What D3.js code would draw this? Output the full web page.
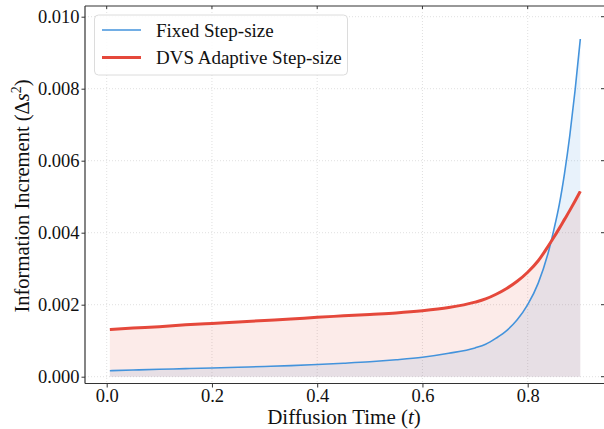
<!DOCTYPE html>
<html><head><meta charset="utf-8">
<script src="https://cdn.jsdelivr.net/npm/d3@7"></script>
<style>body{margin:0;background:#fff}svg{display:block}svg text{font-family:'Liberation Serif','Times New Roman',serif !important;fill:#111}</style>
</head><body><svg id="c" width="604" height="429"></svg>
<script>
const tValues = [0.006,0.05,0.1,0.15,0.2,0.25,0.3,0.35,0.4,0.45,0.5,0.55,0.6,0.65,0.7,0.72,0.74,0.76,0.78,0.8,0.82,0.84,0.85,0.86,0.87,0.88,0.89,0.9];
const fixedStep = [0.000167,0.000185,0.000205,0.000223,0.000242,0.000262,0.000283,0.000307,0.00034,0.000375,0.000415,0.00047,0.00054,0.00065,0.0008,0.0009,0.00107,0.00128,0.00158,0.002,0.0026,0.0035,0.0041,0.00478,0.00565,0.0067,0.00795,0.00938];
const dvsStep = [0.00131,0.00135,0.00139,0.00144,0.00148,0.00152,0.00156,0.0016,0.00165,0.00169,0.00173,0.00177,0.00183,0.00192,0.00207,0.00216,0.00229,0.00245,0.00265,0.0029,0.00322,0.00365,0.00388,0.00412,0.00437,0.00462,0.00488,0.00515];
const xTicks = [0.0,0.2,0.4,0.6,0.8];
const yTicks = [0.000,0.002,0.004,0.006,0.008,0.010];
const seriesNames = ["Fixed Step-size","DVS Adaptive Step-size"];

const L=85,R=604,T=6,B=383.5;
const x=d3.scaleLinear().domain([-0.04123,0.945]).range([L,R]);
const y=d3.scaleLinear().domain([-0.000189,0.010297]).range([B,T]);
const svg=d3.select("#c");
const blue="#4393dc", red="#e5483b";
const FONT="'Liberation Serif', serif";

// grid
const g=svg.append("g");
g.selectAll(".gx").data(xTicks).join("line").attr("x1",d=>x(d)).attr("x2",d=>x(d)).attr("y1",T).attr("y2",B)
 .attr("stroke","#d8d8d8").attr("stroke-width",0.8).attr("stroke-dasharray","1,2");
g.selectAll(".gy").data(yTicks).join("line").attr("y1",d=>y(d)).attr("y2",d=>y(d)).attr("x1",L).attr("x2",R)
 .attr("stroke","#d8d8d8").attr("stroke-width",0.8).attr("stroke-dasharray","1,2");

const fixedData=tValues.map((t,i)=>[t,fixedStep[i]]);
const dvsData=tValues.map((t,i)=>[t,dvsStep[i]]);
const area=d3.area().x(d=>x(d[0])).y0(y(0)).y1(d=>y(d[1])).curve(d3.curveMonotoneX);
const line=d3.line().x(d=>x(d[0])).y(d=>y(d[1])).curve(d3.curveMonotoneX);
svg.append("path").attr("d",area(fixedData)).attr("fill",blue).attr("fill-opacity",0.12);
svg.append("path").attr("d",area(dvsData)).attr("fill",red).attr("fill-opacity",0.11);
svg.append("path").attr("d",line(fixedData)).attr("fill","none").attr("stroke",blue).attr("stroke-width",1.6);
svg.append("path").attr("d",line(dvsData)).attr("fill","none").attr("stroke",red).attr("stroke-width",3);

// spines
const sp="#333";
svg.append("line").attr("x1",L).attr("x2",L).attr("y1",T).attr("y2",B).attr("stroke",sp).attr("stroke-width",1.2);
svg.append("line").attr("x1",L).attr("x2",R).attr("y1",B).attr("y2",B).attr("stroke",sp).attr("stroke-width",1.2);
svg.append("line").attr("x1",L).attr("x2",R).attr("y1",T).attr("y2",T).attr("stroke",sp).attr("stroke-width",1.2);

// axes via d3
const xa=svg.append("g").attr("transform",`translate(0,${B})`).call(d3.axisBottom(x).tickValues(xTicks).tickFormat(d3.format(".1f")).tickSize(4).tickPadding(1));
xa.attr("font-family",FONT).attr("font-size",18.5);
xa.select(".domain").remove();
xa.selectAll("line").attr("stroke",sp);
xa.selectAll("text").attr("fill","#111");
const ya=svg.append("g").attr("transform",`translate(${L},0)`).call(d3.axisLeft(y).tickValues(yTicks).tickFormat(d3.format(".3f")).tickSize(3.5).tickPadding(2));
ya.attr("font-family",FONT).attr("font-size",18.5);
ya.select(".domain").remove();
ya.selectAll("line").attr("stroke",sp);
ya.selectAll("text").attr("fill","#111").attr("dy","0.34em");
// inward ticks top/right
svg.append("g").selectAll("line").data(xTicks).join("line").attr("x1",d=>x(d)).attr("x2",d=>x(d)).attr("y1",T).attr("y2",T+3).attr("stroke",sp);
svg.append("g").selectAll("line").data(yTicks).join("line").attr("y1",d=>y(d)).attr("y2",d=>y(d)).attr("x1",R-3).attr("x2",R).attr("stroke",sp);

// axis labels
const xl=svg.append("text").attr("x",344).attr("y",424).attr("text-anchor","middle").attr("font-size",21);
xl.append("tspan").text("Diffusion Time (");
xl.append("tspan").attr("font-style","italic").text("t");
xl.append("tspan").text(")");
const yl=svg.append("text").attr("transform","translate(29,196) rotate(-90)").attr("text-anchor","middle").attr("font-size",20.5);
yl.append("tspan").text("Information Increment (Δ");
yl.append("tspan").attr("font-style","italic").text("s");
yl.append("tspan").attr("dy","-8").attr("font-size",14).text("2");
yl.append("tspan").attr("dy","8").text(")");

// legend
const lg=svg.append("g");
lg.append("rect").attr("x",94.5).attr("y",15).attr("width",253).attr("height",60).attr("rx",4)
 .attr("fill","#fff").attr("fill-opacity",0.85).attr("stroke","#dcdcdc").attr("stroke-width",1);
const cols=[blue,red], widths=[1.6,3], ly=[30,57.5];
seriesNames.forEach((n,i)=>{
  lg.append("line").attr("x1",102).attr("x2",141).attr("y1",ly[i]).attr("y2",ly[i]).attr("stroke",cols[i]).attr("stroke-width",widths[i]);
  lg.append("text").attr("x",156).attr("y",ly[i]+6.5).attr("font-size",19).text(n);
});
</script></body></html>
